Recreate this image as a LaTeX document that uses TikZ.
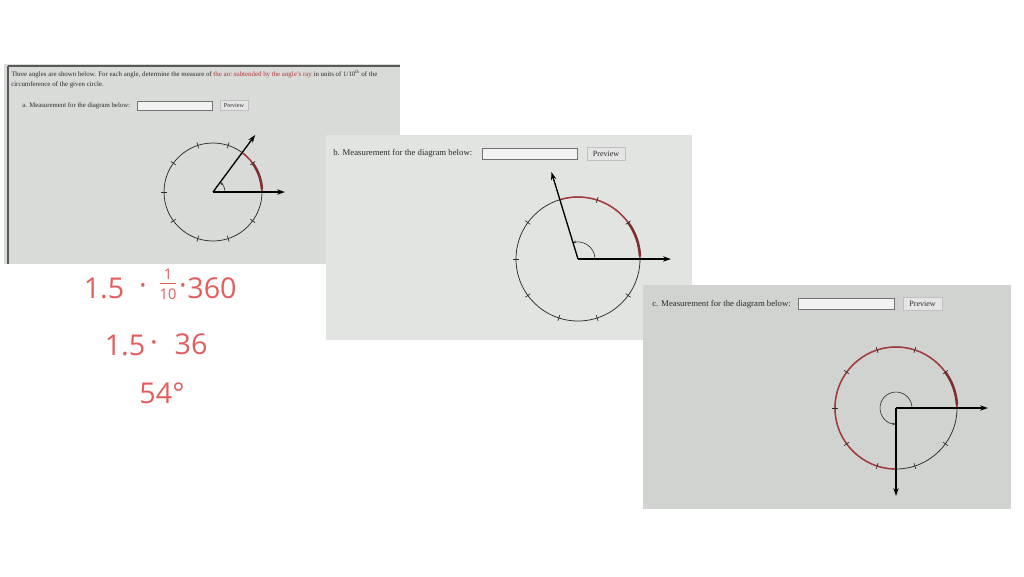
\documentclass[tikz,border=0pt]{standalone}
\usepackage{fontspec}
\setmainfont{Liberation Serif}
\newfontfamily\handfont{Open Sans}
\usetikzlibrary{arrows.meta}
\definecolor{panelA}{HTML}{D8DBD8}
\definecolor{panelB}{HTML}{E1E4E0}
\definecolor{panelC}{HTML}{D0D3D0}
\definecolor{arcred}{HTML}{A23A3A}
\definecolor{arcdark}{HTML}{7E2E2E}
\definecolor{handred}{HTML}{E35D5D}
\definecolor{qred}{HTML}{B03535}
\definecolor{inkgray}{HTML}{2A2A2A}
\begin{document}
\begin{tikzpicture}[x=0.75pt,y=-0.75pt,
  panelline/.style={draw=black!65,line width=0.8pt},
  circ/.style={draw=inkgray,line width=0.55pt},
  redarc/.style={draw=arcred,line width=1.1pt},
  redthick/.style={draw=arcdark,line width=1.9pt},
  tickmark/.style={draw=inkgray,line width=0.5pt},
  markarc/.style={draw=inkgray,line width=0.45pt,-{Stealth[length=2.4pt,width=2pt]}},
  ray/.style={draw=black,line width=1pt,-{Stealth[length=6pt,width=4pt]}},
  qtext/.style={font=\fontsize{5.15}{6}\selectfont,anchor=base west,inner sep=0,text=inkgray},
  mtext/.style={font=\fontsize{6.55}{7}\selectfont,anchor=base west,inner sep=0,text=inkgray},
  field/.style={draw=black!55,fill=white!90!gray,line width=0.5pt,inner sep=0},
  btn/.style={draw=black!25,fill=white!80!gray,line width=0.4pt,inner sep=0,text=inkgray},
  hand/.style={font=\handfont\fontsize{21.5}{26}\selectfont,text=handred,inner sep=0},
  handfrac/.style={font=\handfont\fontsize{11}{13}\selectfont,text=handred,inner sep=0}
]
\useasboundingbox (0,0) rectangle (1024,576);
\fill[white] (0,0) rectangle (1024,576);

% ---------- panel A ----------
\fill[panelA] (4,64) rectangle (400,264);
\draw[panelline] (8,66) -- (400,66);
\draw[panelline] (8,66) -- (8,264);
\node[qtext] (qA1) at (11,76) {Three angles are shown below. For each angle, determine the measure of \textcolor{qred}{the arc subtended by the angle's ray} in units of 1/10\textsuperscript{th} of the};
\node[qtext] (qA2) at (11,86) {circumference of the given circle.};
\node[qtext,font=\fontsize{5.1}{6}\selectfont] (labA) at (22,107.5) {a. Measurement for the diagram below:};
\node[field,minimum width=56pt,minimum height=6.8pt] (fieldA) at (174.5,105.5) {};
\node[btn,minimum width=21pt,minimum height=7.5pt,font=\fontsize{4.6}{5}\selectfont] (btnA) at (234,105.5) {Preview};

\coordinate (oA) at (213,192);
\begin{scope}[shift={(oA)},yscale=-1]
  \draw[circ] (0,0) circle[radius=49];
  \draw[redarc] (0:49) arc[start angle=0,end angle=54,radius=49];
  \draw[redthick] (3:49) arc[start angle=3,end angle=36,radius=49];
  \foreach \a in {36,72,...,324} \draw[tickmark] (\a:46) -- (\a:52);
  \draw[markarc] (0:12) arc[start angle=0,end angle=54,radius=12];
  \coordinate (tA1) at (0:72);
  \coordinate (tA2) at (53.5:71);
\end{scope}
\draw[ray] (oA) -- (tA1);
\draw[ray] (oA) -- (tA2);

% ---------- handwriting ----------
\node[hand] (h1) at (104,288) {1.5};
\node[hand] (h2) at (143,289) {·};
\node[handfrac] (h3) at (168,284) {\shortstack{1\\\rule{12pt}{0.8pt}\\10}};
\node[hand] (h5) at (183,289) {·};
\node[hand] (h6) at (212,288) {360};
\node[hand] (h7) at (125,345) {1.5};
\node[hand] (h8) at (154,346) {·};
\node[hand] (h9) at (191,344) {36};
\node[hand] (h10) at (162,393) {54°};

% ---------- panel B ----------
\fill[panelB] (326,135) rectangle (692,340);
\node[mtext] (labB) at (333,155.5) {b. Measurement for the diagram below:};
\node[field,minimum width=71pt,minimum height=8pt] (fieldB) at (529.5,153.5) {};
\node[btn,minimum width=28.5pt,minimum height=9.5pt,font=\fontsize{6}{7}\selectfont] (btnB) at (606,153.5) {Preview};

\coordinate (oB) at (578,259);
\begin{scope}[shift={(oB)},yscale=-1]
  \draw[circ] (0,0) circle[radius=62];
  \draw[redarc] (0:62) arc[start angle=0,end angle=107,radius=62];
  \draw[redthick] (3:62) arc[start angle=3,end angle=36,radius=62];
  \foreach \a in {36,72,144,180,...,324} \draw[tickmark] (\a:59) -- (\a:65);
  \draw[markarc] (0:17) arc[start angle=0,end angle=107,radius=17];
  \coordinate (tB1) at (0:93);
  \coordinate (tB2) at (107:91);
\end{scope}
\draw[ray] (oB) -- (tB1);
\draw[ray] (oB) -- (tB2);

% ---------- panel C ----------
\fill[panelC] (643,285) rectangle (1011,509);
\node[mtext] (labC) at (652,306) {c. Measurement for the diagram below:};
\node[field,minimum width=72pt,minimum height=8.5pt] (fieldC) at (846,304) {};
\node[btn,minimum width=29pt,minimum height=10pt,font=\fontsize{6}{7}\selectfont] (btnC) at (922.5,304) {Preview};

\coordinate (oC) at (896,408);
\begin{scope}[shift={(oC)},yscale=-1]
  \draw[circ] (0,0) circle[radius=61];
  \draw[redarc] (0:61) arc[start angle=0,end angle=270,radius=61];
  \draw[redthick] (3:61) arc[start angle=3,end angle=36,radius=61];
  \foreach \a in {36,72,...,324} \draw[tickmark] (\a:58) -- (\a:64);
  \draw[markarc] (0:16) arc[start angle=0,end angle=268,radius=16];
  \coordinate (tC1) at (0:92);
  \coordinate (tC2) at (270:88);
\end{scope}
\draw[ray] (oC) -- (tC1);
\draw[ray] (oC) -- (tC2);
\end{tikzpicture}
\end{document}
